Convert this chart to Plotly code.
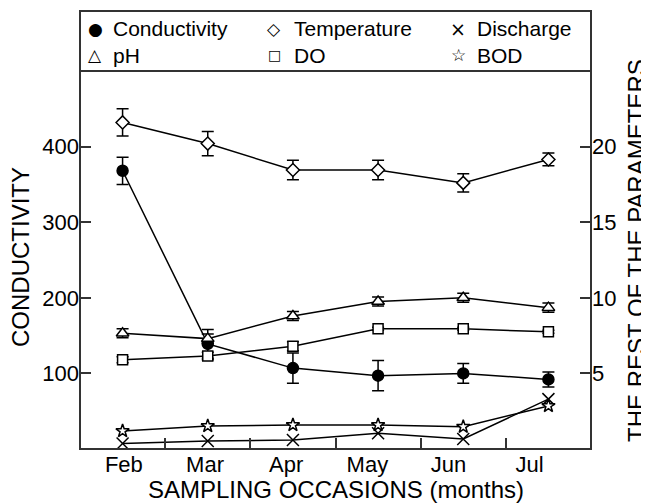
import plotly.graph_objects as go

months = ["Feb", "Mar", "Apr", "May", "Jun", "Jul"]
conductivity = [368, 139, 107, 97, 100, 92]
conductivity_err = [18, 19, 20, 20, 13, 10]
temperature = [21.6, 20.2, 18.45, 18.45, 17.6, 19.15]
temperature_err = [0.9, 0.8, 0.65, 0.65, 0.6, 0.42]
ph = [7.65, 7.3, 8.8, 9.75, 10.0, 9.35]
ph_err = [0.3, 0.3, 0.3, 0.3, 0.3, 0.3]
dissolved_oxygen = [5.9, 6.15, 6.8, 7.95, 7.95, 7.75]
do_err = [0.2, 0.25, 0.3, 0.1, 0.1, 0.1]
bod = [1.19, 1.52, 1.59, 1.59, 1.47, 2.85]
discharge = [0.37, 0.53, 0.6, 1.04, 0.66, 3.3]

FONT = "Liberation Sans, Arial, Helvetica, sans-serif"
GLYPH_FONT = "DejaVu Sans, sans-serif"
xi = list(range(len(months)))

# page body has an 8px margin; the figure is sized/positioned to compensate
OFF = 8
W, H = 649 - OFF, 503 - OFF
PL, PR, PT, PB = 80 - OFF, 591 - OFF, 71 - OFF, 449 - OFF   # plot box in figure px
L, R, T, B = PL, W - PR, PT, H - PB
plot_w = PR - PL
plot_h = PB - PT


def px(x):  # screen x -> paper x
    return (x - OFF - PL) / plot_w


def py(y):  # screen y -> paper y
    return 1 - (y - OFF - PT) / plot_h


fig = go.Figure()


def err(v):
    return dict(type="data", array=v, visible=True, color="black", thickness=1.5, width=6)


def add(name, y, symbol, size, fill, axis, e=None):
    fig.add_trace(go.Scatter(
        x=xi, y=y, mode="lines+markers", name=name, yaxis=axis,
        line=dict(color="black", width=1.5),
        marker=dict(symbol=symbol, size=size, color=fill,
                    line=dict(color="black", width=1.5)),
        error_y=err(e) if e is not None else None,
        showlegend=False, hoverinfo="skip"))


add("Conductivity", conductivity, "circle", 11, "black", "y", conductivity_err)
add("Temperature", temperature, "diamond", 10, "white", "y2", temperature_err)
add("Discharge", discharge, "x-thin", 12, "black", "y2")
add("pH", ph, "triangle-up", 11, "white", "y2", ph_err)
add("DO", dissolved_oxygen, "square", 10, "white", "y2", do_err)
add("BOD", bod, "star", 10, "white", "y2")

label_pos = [0.015 + 0.953 * i for i in xi]

fig.update_layout(
    width=W, height=H,
    margin=dict(l=L, r=R, t=T, b=B, pad=0),
    paper_bgcolor="white", plot_bgcolor="white",
    font=dict(family=FONT, color="black", size=22),
    showlegend=False,
    xaxis=dict(range=[-0.5, 5.5], tickmode="array", tickvals=label_pos, ticktext=months,
               ticks="", showgrid=False, zeroline=False, showline=False,
               tickfont=dict(size=22),
               minor=dict(tickmode="array", tickvals=[0.5, 1.5, 2.5, 3.5, 4.5],
                          ticks="inside", ticklen=11, tickwidth=1.5, tickcolor="#333",
                          showgrid=False)),
    yaxis=dict(range=[0, 500], tickvals=[100, 200, 300, 400], ticks="inside",
               ticklen=11, tickwidth=1.5, tickcolor="#333", showgrid=False,
               zeroline=False, showline=False, tickfont=dict(size=22)),
    yaxis2=dict(range=[0, 25], tickvals=[5, 10, 15, 20], ticks="inside",
                ticklen=11, tickwidth=1.5, tickcolor="#333", showgrid=False,
                zeroline=False, showline=False, overlaying="y", side="right",
                tickfont=dict(size=22)),
)

# frame + legend box
fig.add_shape(type="rect", xref="paper", yref="paper", x0=0, x1=1, y0=0, y1=py(11),
              line=dict(color="#333", width=2), fillcolor="rgba(0,0,0,0)")
fig.add_shape(type="line", xref="paper", yref="paper", x0=0, x1=1, y0=1, y1=1,
              line=dict(color="#333", width=2))

# legend: glyph + label, two rows of three
legend_names = ["Conductivity", "Temperature", "Discharge", "pH", "DO", "BOD"]
legend_glyphs = ["\u25CF", "\u25C7", "\u00D7", "\u25B3", "\u25A1", "\u2606"]
glyph_sizes = [17, 17, 19, 17, 14, 17]
col_glyph_x = [95, 274, 458]
col_text_x = [111, 292, 475]
row_y = [29, 55]
for k, (name, g, gs) in enumerate(zip(legend_names, legend_glyphs, glyph_sizes)):
    r, c = divmod(k, 3)
    fig.add_annotation(text=g, xref="paper", yref="paper", x=px(col_glyph_x[c]), y=py(row_y[r]),
                       showarrow=False, xanchor="center", yanchor="middle",
                       font=dict(size=gs, family=GLYPH_FONT, color="black"))
    fig.add_annotation(text=name, xref="paper", yref="paper", x=px(col_text_x[c]), y=py(row_y[r]),
                       showarrow=False, xanchor="left", yanchor="middle",
                       font=dict(size=21, family=FONT, color="black"))

fig.add_annotation(text="SAMPLING OCCASIONS (months)", xref="paper", yref="paper",
                   x=px(336), y=py(490),
                   showarrow=False, font=dict(size=24, family=FONT),
                   xanchor="center", yanchor="middle")
fig.add_annotation(text="CONDUCTIVITY", xref="paper", yref="paper",
                   x=px(20), y=py(257),
                   showarrow=False, textangle=-90, font=dict(size=24, family=FONT),
                   xanchor="center", yanchor="middle")
fig.add_annotation(text="THE REST OF THE PARAMETERS", xref="paper", yref="paper",
                   x=px(636), y=py(251),
                   showarrow=False, textangle=-90, font=dict(size=24, family=FONT),
                   xanchor="center", yanchor="middle")

fig.write_html("out.html")
